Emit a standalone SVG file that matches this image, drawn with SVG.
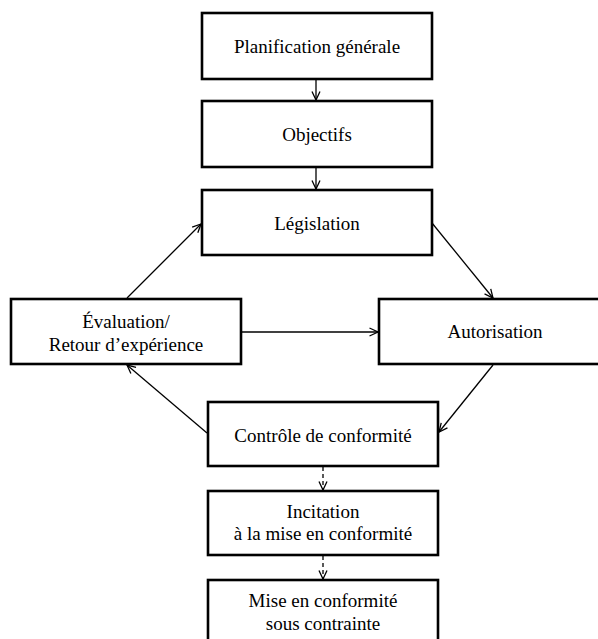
<svg xmlns="http://www.w3.org/2000/svg" width="598" height="639" viewBox="0 0 598 639">
<style>
.box{fill:#fff;stroke:#000;stroke-width:2.6}
.t{font-family:"Liberation Serif","Times New Roman",serif;font-size:19px;fill:#000;text-anchor:middle}
.c{fill:none;stroke:#000;stroke-width:1.3}
.d{stroke-dasharray:4,3}
</style>
<defs>
<marker id="ah" viewBox="0 0 10 10" refX="9.5" refY="5" markerWidth="10" markerHeight="10" markerUnits="userSpaceOnUse" orient="auto">
<path d="M1,1 L9.5,5 L1,9" fill="none" stroke="#000" stroke-width="1.3"/>
</marker>
</defs>
<rect width="598" height="639" fill="#fff"/>
<g id="connectors">
<line class="c" x1="316" y1="80" x2="316" y2="100" marker-end="url(#ah)"/>
<line class="c" x1="316" y1="168" x2="316" y2="189" marker-end="url(#ah)"/>
<line class="c" x1="127" y1="298" x2="201" y2="224" marker-end="url(#ah)"/>
<line class="c" x1="432" y1="223" x2="493" y2="298" marker-end="url(#ah)"/>
<line class="c" x1="241" y1="332" x2="378" y2="332" marker-end="url(#ah)"/>
<line class="c" x1="493" y1="365" x2="439" y2="432" marker-end="url(#ah)"/>
<line class="c" x1="207" y1="433" x2="127" y2="365" marker-end="url(#ah)"/>
<line class="c d" x1="323" y1="467" x2="323" y2="490" marker-end="url(#ah)"/>
<line class="c d" x1="323" y1="556" x2="323" y2="579" marker-end="url(#ah)"/>
</g>
<g id="planification">
<rect class="box" x="202" y="13" width="230" height="66"/>
<text class="t" x="317" y="53">Planification générale</text>
</g>
<g id="objectifs">
<rect class="box" x="202" y="101" width="230" height="66"/>
<text class="t" x="317" y="141">Objectifs</text>
</g>
<g id="legislation">
<rect class="box" x="202" y="190" width="230" height="65"/>
<text class="t" x="317" y="230">Législation</text>
</g>
<g id="evaluation">
<rect class="box" x="11" y="299" width="230" height="65"/>
<text class="t" x="126" y="328">Évaluation/</text>
<text class="t" x="126" y="351">Retour d’expérience</text>
</g>
<g id="autorisation">
<rect class="box" x="379" y="299" width="230" height="65"/>
<text class="t" x="495" y="338">Autorisation</text>
</g>
<g id="controle">
<rect class="box" x="208" y="402" width="230" height="64"/>
<text class="t" x="323" y="442">Contrôle de conformité</text>
</g>
<g id="incitation">
<rect class="box" x="208" y="491" width="230" height="64"/>
<text class="t" x="323" y="518">Incitation</text>
<text class="t" x="323" y="540">à la mise en conformité</text>
</g>
<g id="mise">
<rect class="box" x="208" y="580" width="230" height="70"/>
<text class="t" x="323" y="607">Mise en conformité</text>
<text class="t" x="323" y="630">sous contrainte</text>
</g>
</svg>
